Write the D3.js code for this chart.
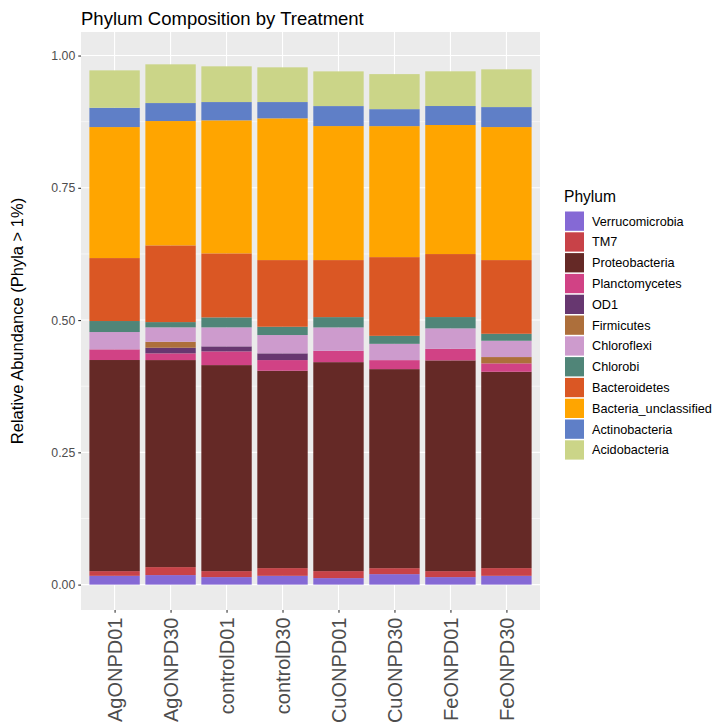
<!DOCTYPE html>
<html>
<head>
<meta charset="utf-8">
<script src="https://cdn.jsdelivr.net/npm/d3@7"></script>
<style>
  html, body { margin: 0; padding: 0; background: #ffffff; }
  svg { display: block; font-family: "Liberation Sans", Arial, sans-serif; }
</style>
</head>
<body>
<svg id="chart" width="715" height="726"></svg>
<script>
// Samples along the x axis
const samples = ["AgONPD01", "AgONPD30", "controlD01", "controlD30",
                 "CuONPD01", "CuONPD30", "FeONPD01", "FeONPD30"];

// Phyla, stacked from the bottom of each bar upward
const phyla = ["Verrucomicrobia", "TM7", "Proteobacteria", "Planctomycetes", "OD1",
               "Firmicutes", "Chloroflexi", "Chlorobi", "Bacteroidetes",
               "Bacteria_unclassified", "Actinobacteria", "Acidobacteria"];

const phylumColors = ["#8569D5", "#C84248", "#652926", "#D14285", "#673770",
                      "#AD6F3B", "#CD9BCD", "#508578", "#DA5724",
                      "#FFA500", "#5F7FC7", "#CBD588"];

// Relative abundance of each phylum, one value per sample (same order as samples)
const verrucomicrobia      = [0.0166, 0.0180, 0.0142, 0.0166, 0.0123, 0.0198, 0.0142, 0.0166];
const tm7                  = [0.0089, 0.0151, 0.0113, 0.0146, 0.0132, 0.0113, 0.0113, 0.0146];
const proteobacteria       = [0.3990, 0.3913, 0.3894, 0.3730, 0.3950, 0.3762, 0.3983, 0.3711];
const planctomycetes       = [0.0202, 0.0127, 0.0259, 0.0202, 0.0214, 0.0170, 0.0219, 0.0159];
const od1                  = [0.0000, 0.0106, 0.0095, 0.0127, 0.0000, 0.0000, 0.0000, 0.0000];
const firmicutes           = [0.0000, 0.0113, 0.0000, 0.0000, 0.0000, 0.0000, 0.0000, 0.0119];
const chloroflexi          = [0.0327, 0.0272, 0.0359, 0.0346, 0.0442, 0.0308, 0.0386, 0.0308];
const chlorobi             = [0.0208, 0.0100, 0.0189, 0.0157, 0.0195, 0.0151, 0.0214, 0.0132];
const bacteroidetes        = [0.1190, 0.1450, 0.1210, 0.1260, 0.1078, 0.1488, 0.1191, 0.1393];
const bacteriaUnclassified = [0.2476, 0.2350, 0.2514, 0.2679, 0.2533, 0.2476, 0.2439, 0.2514];
const actinobacteria       = [0.0365, 0.0340, 0.0346, 0.0308, 0.0378, 0.0321, 0.0359, 0.0378];
const acidobacteria        = [0.0707, 0.0732, 0.0675, 0.0656, 0.0656, 0.0662, 0.0656, 0.0713];

const yTicks = [0, 0.25, 0.5, 0.75, 1.0];
const yTickLabels = ["0.00", "0.25", "0.50", "0.75", "1.00"];
const yMinorTicks = [0.125, 0.375, 0.625, 0.875];
const yDomain = [-0.048, 1.0445];

// Build one row per sample for d3.stack
const seriesByPhylum = [verrucomicrobia, tm7, proteobacteria, planctomycetes, od1,
                        firmicutes, chloroflexi, chlorobi, bacteroidetes,
                        bacteriaUnclassified, actinobacteria, acidobacteria];
const rows = samples.map((s, i) => {
  const r = { sample: s };
  phyla.forEach((p, j) => { r[p] = seriesByPhylum[j][i]; });
  return r;
});

const svg = d3.select("#chart");

// Panel geometry
const panel = { left: 81, right: 540, top: 32, bottom: 610 };

const stacked = d3.stack().keys(phyla)(rows);

const y = d3.scaleLinear()
  .domain(yDomain)
  .range([panel.bottom, panel.top]);

// Discrete x axis with 0.6 unit expansion on each side, bars 0.9 wide
const unit = (panel.right - panel.left) / (samples.length - 1 + 1.2);
const x = d3.scalePoint()
  .domain(samples)
  .range([panel.left + 0.6 * unit, panel.right - 0.6 * unit]);
const barW = 0.9 * unit;

const color = d3.scaleOrdinal().domain(phyla).range(phylumColors);

// Panel background
svg.append("rect")
  .attr("x", panel.left).attr("y", panel.top)
  .attr("width", panel.right - panel.left)
  .attr("height", panel.bottom - panel.top)
  .attr("fill", "#EBEBEB");

// Grid lines
const grid = svg.append("g");
grid.selectAll("line.minor").data(yMinorTicks).join("line")
  .attr("x1", panel.left).attr("x2", panel.right)
  .attr("y1", d => y(d)).attr("y2", d => y(d))
  .attr("stroke", "#ffffff").attr("stroke-width", 0.55);
grid.selectAll("line.majory").data(yTicks).join("line")
  .attr("x1", panel.left).attr("x2", panel.right)
  .attr("y1", d => y(d)).attr("y2", d => y(d))
  .attr("stroke", "#ffffff").attr("stroke-width", 1.1);
grid.selectAll("line.majorx").data(samples).join("line")
  .attr("x1", d => x(d)).attr("x2", d => x(d))
  .attr("y1", panel.top).attr("y2", panel.bottom)
  .attr("stroke", "#ffffff").attr("stroke-width", 1.1);

// Stacked bars
svg.append("g")
  .selectAll("g")
  .data(stacked)
  .join("g")
  .attr("fill", d => color(d.key))
  .selectAll("rect")
  .data(d => d)
  .join("rect")
  .attr("x", d => x(d.data.sample) - barW / 2)
  .attr("width", barW)
  .attr("y", d => y(d[1]))
  .attr("height", d => Math.max(0, y(d[0]) - y(d[1])));

// Y axis
const yAxis = d3.axisLeft(y)
  .tickValues(yTicks)
  .tickFormat((d, i) => yTickLabels[i])
  .tickSize(2.75)
  .tickPadding(3);
const gy = svg.append("g")
  .attr("transform", `translate(${panel.left},0)`)
  .call(yAxis);
gy.select(".domain").remove();
gy.selectAll(".tick line").attr("stroke", "#333333").attr("stroke-width", 1.1);
gy.selectAll(".tick text")
  .attr("fill", "#4D4D4D")
  .style("font-size", "12.3px")
  .style("font-family", "'Liberation Sans', Arial, sans-serif");

// X axis with vertical labels
const xAxis = d3.axisBottom(x).tickSize(2.75).tickPadding(3);
const gx = svg.append("g")
  .attr("transform", `translate(0,${panel.bottom})`)
  .call(xAxis);
gx.select(".domain").remove();
gx.selectAll(".tick line").attr("stroke", "#333333").attr("stroke-width", 1.1);
gx.selectAll(".tick text")
  .attr("fill", "#4D4D4D")
  .style("font-size", "20px")
  .style("font-family", "'Liberation Sans', Arial, sans-serif")
  .attr("text-anchor", "end")
  .attr("dy", null)
  .attr("x", 0).attr("y", 0)
  .attr("transform", "translate(7.2,7.5) rotate(-90)");

// Title
svg.append("text")
  .attr("x", panel.left).attr("y", 25)
  .attr("fill", "#000000")
  .style("font-size", "18.5px")
  .text("Phylum Composition by Treatment");

// Y axis title
svg.append("text")
  .attr("transform", `translate(23,${(panel.top + panel.bottom) / 2}) rotate(-90)`)
  .attr("text-anchor", "middle")
  .attr("fill", "#000000")
  .style("font-size", "16.5px")
  .text("Relative Abundance (Phyla > 1%)");

// Legend (top entry is the first phylum)
const legend = svg.append("g").attr("transform", "translate(564,0)");
legend.append("text")
  .attr("x", 0).attr("y", 202)
  .attr("fill", "#000000")
  .style("font-size", "15.6px")
  .text("Phylum");
const step = 20.8;
const items = legend.selectAll("g.item").data(phyla).join("g")
  .attr("transform", (d, i) => `translate(0,${211.5 + i * step})`);
items.append("rect")
  .attr("x", 1).attr("y", 0)
  .attr("width", 19).attr("height", 19.3)
  .attr("fill", d => color(d));
items.append("text")
  .attr("x", 28).attr("y", 14)
  .attr("fill", "#000000")
  .style("font-size", "12.7px")
  .text(d => d);
</script>
</body>
</html>
